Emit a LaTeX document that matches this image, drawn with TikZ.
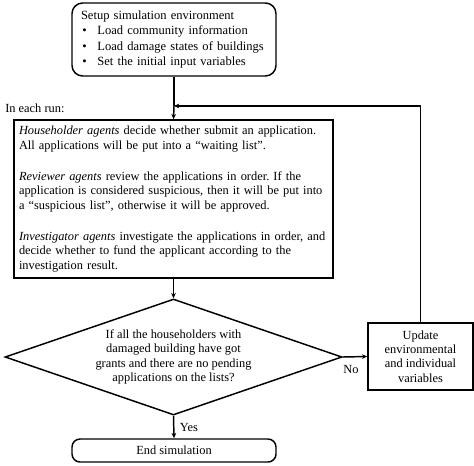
\documentclass[tikz,border=0pt]{standalone}
\usepackage{fontspec}
\setmainfont{Liberation Serif}
\usetikzlibrary{shapes.geometric,arrows.meta}
\frenchspacing
\begin{document}
\begin{tikzpicture}[x=0.75pt,y=-0.75pt,
  every node/.style={font=\fontsize{9.3}{10.8}\selectfont},
  box/.style={draw,line width=1.1pt,inner sep=0pt},
  arr/.style={line width=1.1pt,-{Stealth[length=4pt,width=3.5pt]}},
  ln/.style={line width=1.1pt}]
\useasboundingbox (0,0) rectangle (474,465);
\node[box,rounded corners=8pt,minimum width=204*0.75pt,minimum height=73*0.75pt,inner xsep=9*0.75pt,text width=186*0.75pt,align=left,font=\fontsize{9.4}{11.5}\selectfont] (setup) at (174,39.5)
 {Setup simulation environment\\
  \hspace*{1pt}\textbullet\hspace{8pt}Load community information\\
  \hspace*{1pt}\textbullet\hspace{8pt}Load damage states of buildings\\
  \hspace*{1pt}\textbullet\hspace{8pt}Set the initial input variables};
\node[anchor=west,inner sep=0pt] (run) at (5,108) {In each run:};
\node[box,minimum width=319*0.75pt,minimum height=158*0.75pt,text width=309*0.75pt,align=left] (main) at (173.5,199)
 {\mbox{\textit{Householder agents} decide whether submit an application.}\\
  All applications will be put into a “waiting list”.\\[12.5pt]
  \mbox{\textit{Reviewer agents} review the applications in order. If the}\\
  \mbox{application is considered suspicious, then it will be put into}\\
  a “suspicious list”, otherwise it will be approved.\\[12.5pt]
  \mbox{\textit{Investigator agents} investigate the applications in order, and}\\
  decide whether to fund the applicant according to the\\
  investigation result.};
\node[box,diamond,aspect=2.9,minimum width=337*0.75pt,minimum height=116*0.75pt,align=center] (dec) at (173.5,357)
 {If all the householders with\\damaged building have got\\grants and there are no pending\\applications on the lists?};
\node[box,minimum width=105*0.75pt,minimum height=67*0.75pt,align=center] (upd) at (420.5,356.5)
 {Update\\environmental\\and individual\\variables};
\node[box,rounded corners=6pt,minimum width=204*0.75pt,minimum height=23*0.75pt] (endsim) at (174,450.5) {End simulation};
\coordinate (j) at (174,106);
\draw[ln] (setup.south) -- (j);
\draw[arr] (j) -- (main.north);
\draw[arr] (upd.north) |- (j);
\draw[arr] (main.south) -- (dec.north);
\draw[arr] (dec.east) -- node[below,inner sep=0pt,yshift=-6pt,xshift=-3pt] (no) {No} (upd.west);
\draw[arr] (dec.south) -- node[right,inner sep=0pt,xshift=4pt] (yes) {Yes} (endsim.north);
\end{tikzpicture}
\end{document}
